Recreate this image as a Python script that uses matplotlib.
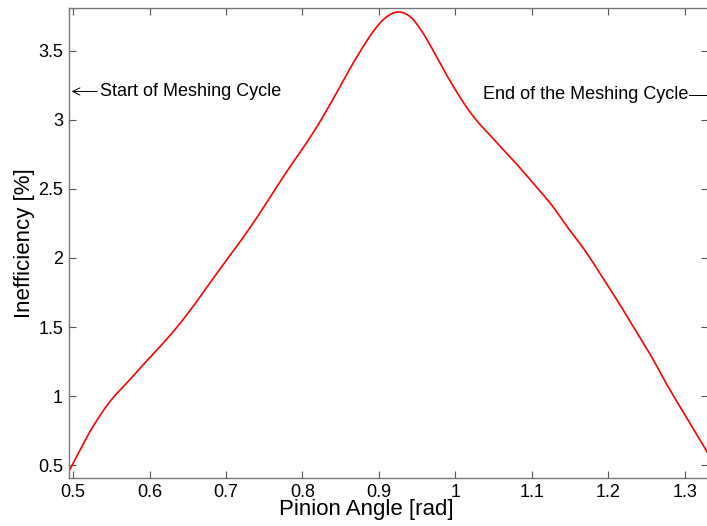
import matplotlib
matplotlib.use("Agg")
import matplotlib.pyplot as plt
import numpy as np

plt.rcParams['font.family'] = ['Liberation Sans', 'DejaVu Sans']

# values
angle = [0.494, 0.510, 0.526, 0.548, 0.571, 0.592, 0.614, 0.636, 0.657, 0.679,
         0.700, 0.720, 0.740, 0.760, 0.780, 0.800, 0.820, 0.840, 0.860, 0.876,
         0.890, 0.903, 0.914, 0.924, 0.934, 0.944, 0.955, 0.966, 0.978, 0.990,
         1.003, 1.016, 1.030, 1.045, 1.060, 1.080, 1.102, 1.125, 1.147, 1.170,
         1.190, 1.212, 1.233, 1.255, 1.277, 1.305, 1.330]
ineff = [0.45, 0.62, 0.78, 0.96, 1.10, 1.23, 1.36, 1.50, 1.65, 1.82,
         1.98, 2.13, 2.29, 2.46, 2.63, 2.79, 2.96, 3.15, 3.35, 3.50,
         3.62, 3.71, 3.76, 3.78, 3.77, 3.73, 3.65, 3.55, 3.43, 3.31,
         3.19, 3.08, 2.98, 2.89, 2.80, 2.68, 2.54, 2.39, 2.22, 2.05,
         1.88, 1.69, 1.50, 1.30, 1.08, 0.82, 0.59]

xticks = [0.5, 0.6, 0.7, 0.8, 0.9, 1.0, 1.1, 1.2, 1.3]
xtick_labels = ['0.5', '0.6', '0.7', '0.8', '0.9', '1', '1.1', '1.2', '1.3']
yticks = [0.5, 1, 1.5, 2, 2.5, 3, 3.5]
ytick_labels = ['0.5', '1', '1.5', '2', '2.5', '3', '3.5']

fig = plt.figure(figsize=(7.07, 5.26), dpi=100)
ax = fig.add_axes([0.097, 0.091, 0.905, 0.894])

# catmull-rom pass so the read points join into a smooth line
px = np.array(angle)
py = np.array(ineff)
xs, ys = [], []
t = np.linspace(0, 1, 8, endpoint=False)
for i in range(len(px) - 1):
    i0 = max(i - 1, 0)
    i3 = min(i + 2, len(px) - 1)
    for arr, out in ((px, xs), (py, ys)):
        a, b, c, d = arr[i0], arr[i], arr[i + 1], arr[i3]
        out.extend(0.5 * (2 * b + (c - a) * t + (2 * a - 5 * b + 4 * c - d) * t**2
                          + (3 * b - a - 3 * c + d) * t**3))
xs.append(px[-1])
ys.append(py[-1])

ax.plot(xs, ys, color='red', linewidth=1.2)

ax.set_xlim(0.494, 1.331)
ax.set_ylim(0.406, 3.81)
ax.set_xticks(xticks)
ax.set_xticklabels(xtick_labels)
ax.set_yticks(yticks)
ax.set_yticklabels(ytick_labels)
ax.tick_params(direction='in', top=True, right=True, length=5, width=0.8,
               color='#555555', labelsize=13, pad=4)
for s in ax.spines.values():
    s.set_color('#777777')
    s.set_linewidth(1.0)

ax.set_xlabel('Pinion Angle [rad]', fontsize=16, labelpad=1)
ax.xaxis.set_label_coords(0.465, -0.045, transform=ax.transAxes)
ax.xaxis.label.set_va('top')
ax.set_ylabel('Inefficiency [%]', fontsize=16, labelpad=2)

# annotations
ax.annotate('Start of Meshing Cycle', xy=(0.498, 3.205), xytext=(0.535, 3.205),
            fontsize=13, va='center', ha='left',
            arrowprops=dict(arrowstyle='->', color='black', lw=0.7,
                            shrinkA=0, shrinkB=0))
ax.text(1.305, 3.18, 'End of the Meshing Cycle', fontsize=13, va='center', ha='right')
ax.plot([1.306, 1.331], [3.18, 3.18], color='black', linewidth=0.7, clip_on=False)

fig.savefig('out.png', dpi=100)
